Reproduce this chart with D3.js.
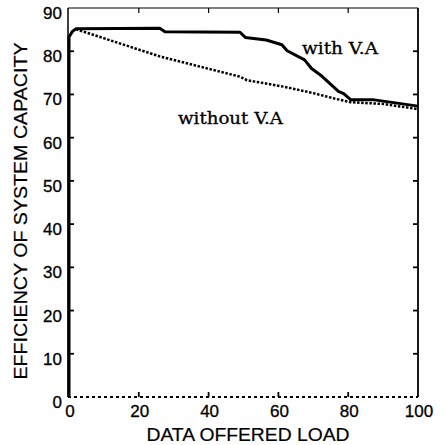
<!DOCTYPE html>
<html>
<head>
<meta charset="utf-8">
<script src="https://cdn.jsdelivr.net/npm/d3@7"></script>
<style>
  body { margin: 0; background: #fff; }
  svg { display: block; }
  .tick-label { font-family: "Liberation Sans", Arial, sans-serif; font-size: 17px; fill: #000; stroke: #000; stroke-width: 0.3px; }
  .axis-title { font-family: "Liberation Sans", Arial, sans-serif; font-size: 18px; fill: #000; stroke: #000; stroke-width: 0.2px; }
  .series-label { font-family: "DejaVu Serif", "Liberation Serif", serif; font-size: 16px; fill: #000; stroke: #000; stroke-width: 0.3px; }
</style>
</head>
<body>
<script>
// series: [load, efficiency]
var withVA = [[0, 0], [0, 83.3], [1, 84.6], [2, 85.2], [26, 85.3], [27.5, 84.5], [49, 84.4],
  [50.5, 83.2], [56.5, 82.6], [61, 81.5], [62.5, 80.1], [67.5, 78], [69.5, 76],
  [72.5, 74.2], [77.2, 70.7], [78.7, 70.2], [80.7, 68.8], [87, 68.8], [100, 67.3]];
var withoutVA = [[2, 85.1], [26, 78.8], [49, 74.1], [51, 73.3], [61.5, 71.8], [70, 70.3],
  [75.8, 69.1], [80.7, 68.2], [90, 67.8], [100, 66.6]];
var xTicks = [0, 20, 40, 60, 80, 100];
var yTicks = [0, 10, 20, 30, 40, 50, 60, 70, 80, 90];
var seriesNames = ['with V.A', 'without V.A'];

(function() {
    var w = 446, h = 445;
    var left = 69, right = 418, top = 8, bottom = 397;

    var x = d3.scaleLinear().domain([0, 100]).range([left, right]);
    var y = d3.scaleLinear().domain([0, 90]).range([bottom, top]);

    var svg = d3.select('body').append('svg')
        .attr('width', w)
        .attr('height', h);

    // frame: left, top, right solid; bottom dotted like the scan
    svg.append('line').attr('x1', left - 1).attr('x2', left - 1).attr('y1', top).attr('y2', bottom)
        .attr('stroke', '#000').attr('stroke-width', 1.5);
    svg.append('line').attr('x1', left - 1).attr('x2', right).attr('y1', top).attr('y2', top)
        .attr('stroke', '#000').attr('stroke-width', 1.2);
    svg.append('line').attr('x1', right).attr('x2', right).attr('y1', top).attr('y2', bottom)
        .attr('stroke', '#000').attr('stroke-width', 1.8);
    svg.append('line').attr('x1', left - 1).attr('x2', right).attr('y1', bottom).attr('y2', bottom)
        .attr('stroke', '#000').attr('stroke-width', 2).attr('stroke-dasharray', '3,3');

    // inward ticks on all four sides
    var tickLen = 5;
    svg.selectAll('.ytick-r').data(yTicks.slice(1, -1)).enter().append('line')
        .attr('x1', right).attr('x2', right - tickLen)
        .attr('y1', function(d) { return y(d); }).attr('y2', function(d) { return y(d); })
        .attr('stroke', '#000').attr('stroke-width', 1.8);
    svg.selectAll('.ytick-l').data(yTicks.slice(1, -1)).enter().append('line')
        .attr('x1', left).attr('x2', left + tickLen)
        .attr('y1', function(d) { return y(d); }).attr('y2', function(d) { return y(d); })
        .attr('stroke', '#000').attr('stroke-width', 1.8);
    svg.selectAll('.xtick-t').data(xTicks.slice(1, -1)).enter().append('line')
        .attr('x1', function(d) { return x(d); }).attr('x2', function(d) { return x(d); })
        .attr('y1', top).attr('y2', top + tickLen)
        .attr('stroke', '#000').attr('stroke-width', 1.2);
    svg.selectAll('.xtick-b').data(xTicks.slice(1, -1)).enter().append('line')
        .attr('x1', function(d) { return x(d); }).attr('x2', function(d) { return x(d); })
        .attr('y1', bottom).attr('y2', bottom - tickLen)
        .attr('stroke', '#000').attr('stroke-width', 1.8);

    // tick labels
    svg.selectAll('.ylab').data(yTicks).enter().append('text')
        .attr('class', 'tick-label')
        .attr('x', 62)
        .attr('y', function(d) { return y(d) + 11; })
        .attr('text-anchor', 'end')
        .text(function(d) { return d; });
    svg.selectAll('.xlab').data(xTicks).enter().append('text')
        .attr('class', 'tick-label')
        .attr('x', function(d) { return x(d) + 1; })
        .attr('y', 417)
        .attr('text-anchor', 'middle')
        .text(function(d) { return d; });

    // axis titles
    svg.append('text').attr('class', 'axis-title')
        .attr('x', 248).attr('y', 441)
        .attr('text-anchor', 'middle')
        .attr('textLength', 203).attr('lengthAdjust', 'spacingAndGlyphs')
        .text('DATA OFFERED LOAD');
    svg.append('text').attr('class', 'axis-title')
        .attr('transform', 'translate(27,211) rotate(-90)')
        .attr('text-anchor', 'middle')
        .attr('textLength', 337).attr('lengthAdjust', 'spacingAndGlyphs')
        .text('EFFICIENCY OF SYSTEM CAPACITY');

    var line = d3.line()
        .x(function(d) { return x(d[0]); })
        .y(function(d) { return y(d[1]); });

    svg.append('path').datum(withoutVA)
        .attr('d', line)
        .attr('fill', 'none').attr('stroke', '#000')
        .attr('stroke-width', 2.5).attr('stroke-dasharray', '2.5,1.6');
    svg.append('path').datum(withVA)
        .attr('d', line)
        .attr('fill', 'none').attr('stroke', '#000')
        .attr('stroke-width', 3).attr('stroke-linejoin', 'round');

    // series labels
    svg.append('text').attr('class', 'series-label')
        .attr('x', 302).attr('y', 54)
        .attr('textLength', 76).attr('lengthAdjust', 'spacingAndGlyphs')
        .text(seriesNames[0]);
    svg.append('text').attr('class', 'series-label')
        .attr('x', 178).attr('y', 124)
        .attr('textLength', 105).attr('lengthAdjust', 'spacingAndGlyphs')
        .text(seriesNames[1]);
})();
</script>
</body>
</html>
